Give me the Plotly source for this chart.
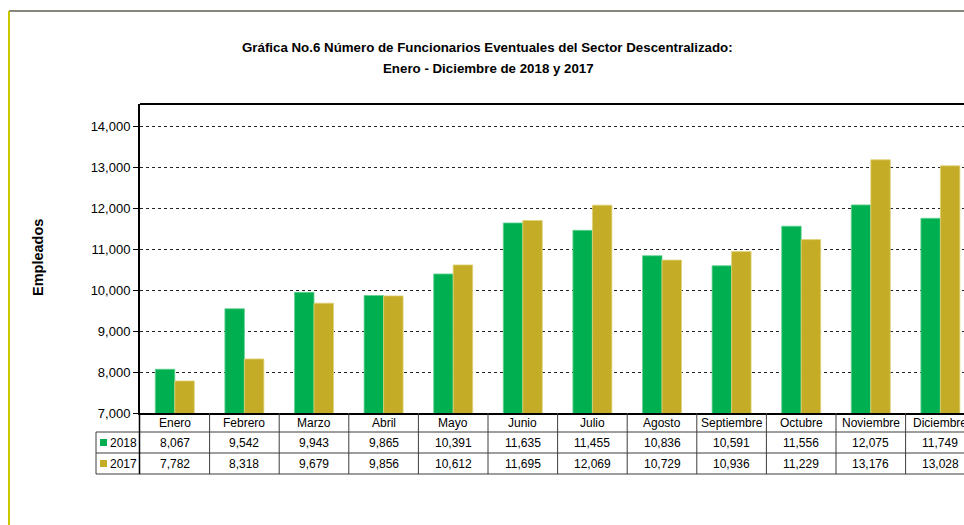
import plotly.graph_objects as go

months = ["Enero", "Febrero", "Marzo", "Abril", "Mayo", "Junio", "Julio",
          "Agosto", "Septiembre", "Octubre", "Noviembre", "Diciembre"]
vals_2018 = [8067, 9542, 9943, 9865, 10391, 11635, 11455, 10836, 10591, 11556, 12075, 11749]
vals_2017 = [7782, 8318, 9679, 9856, 10612, 11695, 12069, 10729, 10936, 11229, 13176, 13028]
series_names = ["2018", "2017"]
y_ticks = [7000, 8000, 9000, 10000, 11000, 12000, 13000, 14000]

GREEN = "#00B050"
GOLD = "#C4AC26"
FONT = "Liberation Sans, Arial, sans-serif"

W, Hfig = 964, 525
L, T, B = 140, 104, 413          # plot area pixel edges
PW = W - L
PH = B - T
CAT_W = 69.6                     # pixel width of one category

def px(xp):
    return (xp - L) / PW

def py(yp):
    return (B - yp) / PH

x_idx = list(range(len(months)))

fig = go.Figure()
fig.add_trace(go.Bar(x=x_idx, y=vals_2018, name=series_names[0],
                     marker=dict(color=GREEN, line=dict(color="#5fd08f", width=0.8))))
fig.add_trace(go.Bar(x=x_idx, y=vals_2017, name=series_names[1],
                     marker=dict(color=GOLD, line=dict(color="#e0d27a", width=0.8))))

y_top = 14000 + (126 - T) / (287 / 7000)

fig.update_layout(
    width=W, height=Hfig,
    margin=dict(l=L, r=0, t=T, b=Hfig - B, pad=0),
    paper_bgcolor="white", plot_bgcolor="white",
    barmode="group", bargap=0.44, bargroupgap=0,
    showlegend=False,
    font=dict(family=FONT, size=12, color="black"),
    xaxis=dict(range=[-0.5, -0.5 + PW / CAT_W], showticklabels=False,
               showgrid=False, zeroline=False, showline=True,
               linecolor="black", linewidth=2, ticks=""),
    yaxis=dict(range=[7000, y_top], tickvals=y_ticks,
               ticktext=[f"{v:,}" for v in y_ticks],
               tickfont=dict(size=13, family=FONT, color="black"),
               ticks="outside", ticklen=5, tickcolor="black", tickwidth=1,
               showline=True, linecolor="black", linewidth=2,
               showgrid=True, gridcolor="#222222", griddash="dot", gridwidth=1,
               zeroline=False),
)

shapes = []
# plot area top border
shapes.append(dict(type="line", xref="paper", yref="paper", x0=0, x1=1, y0=1, y1=1,
                   line=dict(color="black", width=2)))
# outer chart frame (top and left)
shapes.append(dict(type="line", xref="paper", yref="paper", x0=px(9), x1=px(970),
                   y0=py(11), y1=py(11), line=dict(color="#5e5e52", width=1.5)))
shapes.append(dict(type="line", xref="paper", yref="paper", x0=px(9), x1=px(9),
                   y0=py(11), y1=py(530), line=dict(color="#C8C800", width=2)))

# table geometry
row_y = [413, 432, 453, 474]
tbl_col = "#3c3c3c"
for yy in row_y[1:]:
    shapes.append(dict(type="line", xref="paper", yref="paper", x0=px(96), x1=px(975),
                       y0=py(yy), y1=py(yy), line=dict(color=tbl_col, width=1)))
for i in range(len(months)):
    shapes.append(dict(type="line", xref="x", yref="paper", x0=i + 0.5, x1=i + 0.5,
                       y0=py(413), y1=py(474), line=dict(color=tbl_col, width=1)))
shapes.append(dict(type="line", xref="paper", yref="paper", x0=px(139.5), x1=px(139.5),
                   y0=py(413), y1=py(474), line=dict(color="black", width=1.5)))
shapes.append(dict(type="line", xref="paper", yref="paper", x0=px(96), x1=px(96),
                   y0=py(432), y1=py(474), line=dict(color=tbl_col, width=1)))
# legend keys
for col, ymid in [(GREEN, 442.5), (GOLD, 463.5)]:
    shapes.append(dict(type="rect", xref="paper", yref="paper", x0=px(100), x1=px(107),
                       y0=py(ymid + 3.5), y1=py(ymid - 3.5), fillcolor=col,
                       line=dict(width=0)))

annotations = []
row_mid = [(row_y[i] + row_y[i + 1]) / 2 for i in range(3)]
for i, m in enumerate(months):
    annotations.append(dict(x=i, y=py(row_mid[0]), xref="x", yref="paper", text=m,
                            showarrow=False, font=dict(size=12), xanchor="center",
                            yanchor="middle"))
    annotations.append(dict(x=i, y=py(row_mid[1]), xref="x", yref="paper",
                            text=f"{vals_2018[i]:,}", showarrow=False,
                            font=dict(size=12), xanchor="center", yanchor="middle"))
    annotations.append(dict(x=i, y=py(row_mid[2]), xref="x", yref="paper",
                            text=f"{vals_2017[i]:,}", showarrow=False,
                            font=dict(size=12), xanchor="center", yanchor="middle"))
for name, ymid in zip(series_names, row_mid[1:]):
    annotations.append(dict(x=px(107.5), y=py(ymid), xref="paper", yref="paper",
                            text=name, showarrow=False, font=dict(size=12),
                            xanchor="left", yanchor="middle"))

# titles
annotations.append(dict(x=px(487), y=py(47), xref="paper", yref="paper",
                        text="<b>Gráfica No.6 Número de Funcionarios Eventuales del Sector Descentralizado:</b>",
                        showarrow=False, font=dict(size=13.3), xanchor="center", yanchor="middle"))
annotations.append(dict(x=px(488), y=py(68), xref="paper", yref="paper",
                        text="<b>Enero - Diciembre de 2018 y 2017</b>",
                        showarrow=False, font=dict(size=13.3), xanchor="center", yanchor="middle"))
annotations.append(dict(x=px(38), y=py(258), xref="paper", yref="paper",
                        text="<b>Empleados</b>", textangle=-90,
                        showarrow=False, font=dict(size=14.5), xanchor="center", yanchor="middle"))

fig.update_layout(shapes=shapes, annotations=annotations)
fig.write_html("out.html",
               config={"displayModeBar": False},
               post_script="document.body.style.margin='0';"
                           "document.body.style.overflow='hidden';"
                           "document.documentElement.style.overflow='hidden';")
